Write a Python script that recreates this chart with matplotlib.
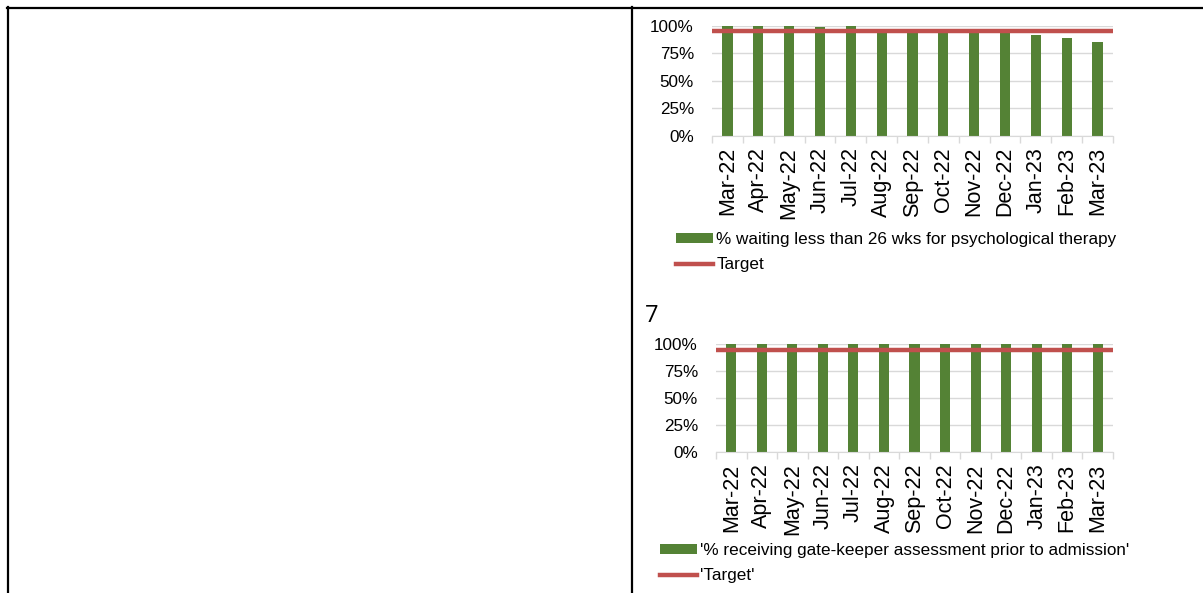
import numpy as np
import matplotlib
matplotlib.use("Agg")
import matplotlib.pyplot as plt
from matplotlib.lines import Line2D

plt.rcParams['font.family'] = ['Liberation Sans', 'DejaVu Sans']

# Data
months = ['Mar-22', 'Apr-22', 'May-22', 'Jun-22', 'Jul-22', 'Aug-22', 'Sep-22',
          'Oct-22', 'Nov-22', 'Dec-22', 'Jan-23', 'Feb-23', 'Mar-23']
psych_pct = [1.00, 1.00, 1.00, 0.985, 1.00, 0.95, 0.95, 0.95, 0.95, 0.95, 0.914, 0.89, 0.853]
gatekeeper_pct = [1.00] * 13
target_pct = 0.95
y_ticks = [0, 0.25, 0.5, 0.75, 1.0]
y_labels = ['0%', '25%', '50%', '75%', '100%']

psych_label = '% waiting less than 26 wks for psychological therapy'
psych_target_label = 'Target'
gate_label = "'% receiving gate-keeper assessment prior to admission'"
gate_target_label = "'Target'"

GREEN = '#548235'
RED = '#C0504D'
GRID = '#D9D9D9'
FS = 12.3
XFS = 15.5

W, H = 1203, 593
fig = plt.figure(figsize=(W / 100, H / 100), dpi=100)


def px_axes(x0, x1, ytop, ybot):
    return fig.add_axes([x0 / W, (H - ybot) / H, (x1 - x0) / W, (ybot - ytop) / H])


def draw_chart(ax, values, bar_label, tgt_label, leg_xy):
    x = np.arange(len(months))
    bars = ax.bar(x, values, width=0.33, color=GREEN, label=bar_label, zorder=2)
    tline = ax.axhline(target_pct, color=RED, lw=3.2, label=tgt_label, zorder=3)
    ax.set_xlim(-0.5, len(months) - 0.5)
    ax.set_ylim(0, 1.0)
    ax.set_yticks(y_ticks)
    ax.set_yticklabels(y_labels, fontsize=FS)
    ax.set_xticks(x)
    ax.set_xticklabels(months, rotation=90, fontsize=XFS)
    ax.set_xticks(np.arange(-0.5, len(months)), minor=True)
    ax.tick_params(axis='x', which='major', length=0, pad=8)
    ax.tick_params(axis='x', which='minor', length=5, color=GRID, width=1)
    ax.tick_params(axis='y', length=0, pad=13)
    for s in ['top', 'right', 'left']:
        ax.spines[s].set_visible(False)
    ax.spines['bottom'].set_color(GRID)
    ax.grid(axis='y', color=GRID, lw=1, zorder=0)
    ax.set_axisbelow(True)
    ax.legend(handles=[bars, tline], loc='upper left',
              bbox_to_anchor=(leg_xy[0] / W, 1 - leg_xy[1] / H),
              bbox_transform=fig.transFigure, frameon=False, fontsize=FS,
              handlelength=2.15, handleheight=0.5, handletextpad=0.2,
              labelspacing=0.6, borderaxespad=0, borderpad=0)


ax1 = px_axes(712, 1113, 25.5, 136)
draw_chart(ax1, psych_pct, psych_label, psych_target_label, (676, 232))

ax2 = px_axes(716, 1113, 344.3, 452.3)
draw_chart(ax2, gatekeeper_pct, gate_label, gate_target_label, (660, 543))

fig.text(645 / W, 1 - 304 / H, '7', fontsize=17, family='Open Sans', va='top', ha='left')

# table borders
for xs, ys in [((7, W), (7.5, 7.5)), ((7.5, 7.5), (7, H)), ((631.5, 631.5), (7, H))]:
    fig.add_artist(Line2D([v / W for v in xs], [1 - v / H for v in ys],
                          color='black', lw=1.6, transform=fig.transFigure))

fig.savefig('out.png', dpi=100)
